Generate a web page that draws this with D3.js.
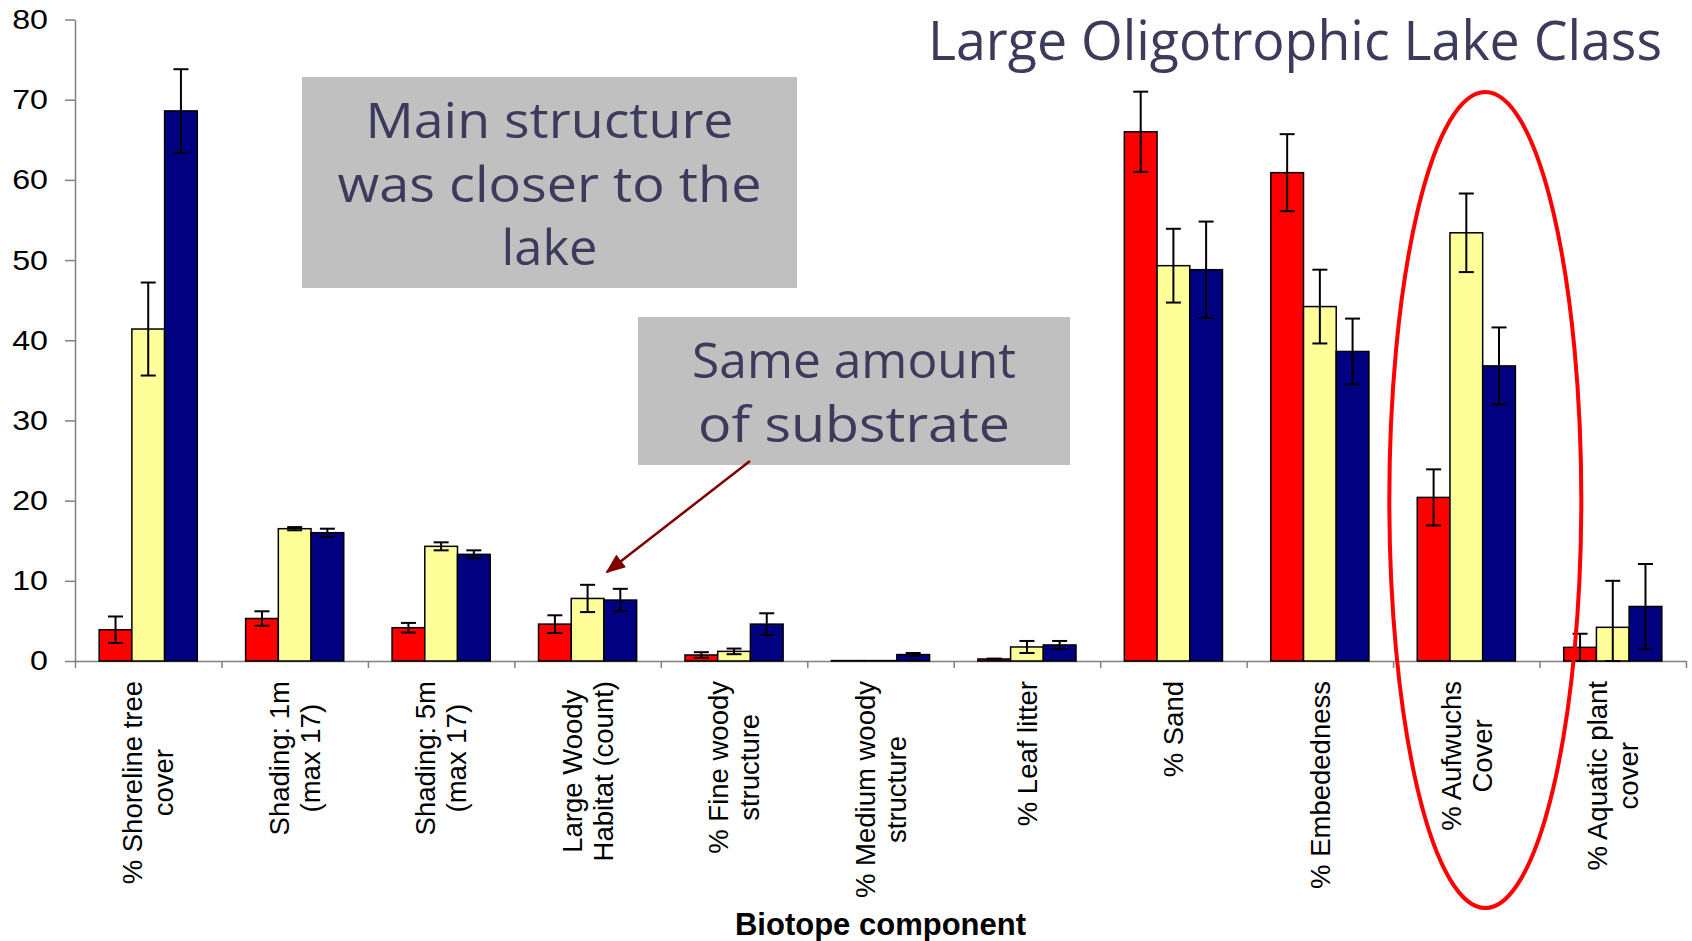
<!DOCTYPE html>
<meta charset="utf-8">
<style type="text/css">
body {
  margin: 0;
  background: #fff;
  font-family: Arial, "Liberation Sans", sans-serif;
}

.axis path,
.axis line {
  fill: none;
  stroke: #808080;
  stroke-width: 1.5px;
}

.axis text {
  font-size: 28px;
  fill: #000;
}

.xlab text {
  font-size: 27.5px;
  fill: #000;
}

.bar {
  stroke: #000;
  stroke-width: 1.5px;
}

.err {
  stroke: #000;
  stroke-width: 2px;
}

.note {
  font-family: "Comic Sans MS", "Open Sans", sans-serif;
  fill: #3d3b5c;
}
</style>
<body>
<script src="https://d3js.org/d3.v7.min.js"></script>
<script>
// categories along the x axis (label lines)
var categories = [
  ["% Shoreline tree", "cover"],
  ["Shading: 1m", "(max 17)"],
  ["Shading: 5m", "(max 17)"],
  ["Large Woody", "Habitat (count)"],
  ["% Fine woody", "structure"],
  ["% Medium woody", "structure"],
  ["% Leaf litter"],
  ["% Sand"],
  ["% Embededness"],
  ["% Aufwuchs", "Cover"],
  ["% Aquatic plant", "cover"]
];

// three series, means and error (+/-)
var redValues    = [3.9, 5.3, 4.15, 4.6, 0.75, 0.05, 0.25, 66.0, 60.9, 20.4, 1.7];
var redErrors    = [1.65, 0.9, 0.6, 1.1, 0.35, 0, 0.05, 5.0, 4.8, 3.5, 1.7];
var yellowValues = [41.4, 16.5, 14.3, 7.8, 1.2, 0.05, 1.75, 49.3, 44.2, 53.4, 4.2];
var yellowErrors = [5.8, 0.2, 0.5, 1.7, 0.35, 0, 0.75, 4.6, 4.6, 4.9, 5.8];
var blueValues   = [68.6, 16.0, 13.3, 7.6, 4.6, 0.8, 2.0, 48.8, 38.6, 36.8, 6.8];
var blueErrors   = [5.2, 0.5, 0.5, 1.4, 1.35, 0.2, 0.5, 6.0, 4.1, 4.8, 5.3];

var seriesNames = ["red", "yellow", "blue"];
var seriesColors = ["#ff0000", "#ffff99", "#000080"];

var yTicks = [0, 10, 20, 30, 40, 50, 60, 70, 80];

var titleText = "Large Oligotrophic Lake Class";
var box1Lines = ["Main structure", "was closer to the", "lake"];
var box2Lines = ["Same amount", "of substrate"];
var xTitle = "Biotope component";

var W = 1692, H = 941;
var plotLeft = 75, plotRight = 1686, plotTop = 19.5, plotBottom = 661;

var svg = d3.select("body")
  .append("svg")
    .attr("width", W)
    .attr("height", H);

var keys = categories.map(function(d) { return d.join(" "); });

var x0 = d3.scaleBand()
  .domain(keys)
  .range([plotLeft, plotRight])
  .paddingInner(0.33)
  .paddingOuter(0.165);

var x1 = d3.scaleBand()
  .domain(seriesNames)
  .range([0, x0.bandwidth()]);

var y = d3.scaleLinear()
  .domain([0, 80])
  .range([plotBottom, plotTop]);

var color = d3.scaleOrdinal().domain(seriesNames).range(seriesColors);

var rows = keys.map(function(k, i) {
  return {
    key: k,
    values: [
      { s: "red", v: redValues[i], e: redErrors[i] },
      { s: "yellow", v: yellowValues[i], e: yellowErrors[i] },
      { s: "blue", v: blueValues[i], e: blueErrors[i] }
    ]
  };
});

// y axis
var yAxis = d3.axisLeft(y)
  .tickValues(yTicks)
  .tickSizeInner(10)
  .tickSizeOuter(0)
  .tickPadding(17);

var gy = svg.append("g")
  .attr("class", "y axis")
  .attr("transform", "translate(" + plotLeft + ",0)")
  .call(yAxis);

gy.selectAll("text")
  .attr("x", -27 / 1.15)
  .attr("transform", "scale(1.15,1)");

// x axis: ticks between categories
var xb = d3.scaleLinear().domain([0, keys.length]).range([plotLeft, plotRight]);
var xAxis = d3.axisBottom(xb)
  .tickValues(d3.range(keys.length + 1))
  .tickFormat("")
  .tickSizeInner(7)
  .tickSizeOuter(0);

svg.append("g")
  .attr("class", "x axis")
  .attr("transform", "translate(0," + plotBottom + ")")
  .call(xAxis);

// bars
var group = svg.selectAll("g.cat")
  .data(rows)
  .enter().append("g")
  .attr("class", "cat")
  .attr("transform", function(d) { return "translate(" + x0(d.key) + ",0)"; });

group.selectAll("rect")
  .data(function(d) { return d.values; })
  .enter().append("rect")
  .attr("class", "bar")
  .attr("x", function(d) { return x1(d.s); })
  .attr("width", x1.bandwidth())
  .attr("y", function(d) { return y(d.v); })
  .attr("height", function(d) { return y(0) - y(d.v); })
  .style("fill", function(d) { return color(d.s); });

// error bars
var capW = 7.5;
var eb = group.selectAll("g.eb")
  .data(function(d) { return d.values.filter(function(v) { return v.e > 0; }); })
  .enter().append("g")
  .attr("class", "eb")
  .attr("transform", function(d) { return "translate(" + (x1(d.s) + x1.bandwidth() / 2) + ",0)"; });

eb.append("line")
  .attr("class", "err")
  .attr("y1", function(d) { return y(d.v + d.e); })
  .attr("y2", function(d) { return y(Math.max(0, d.v - d.e)); });

eb.append("line")
  .attr("class", "err")
  .attr("x1", -capW).attr("x2", capW)
  .attr("y1", function(d) { return y(d.v + d.e); })
  .attr("y2", function(d) { return y(d.v + d.e); });

eb.append("line")
  .attr("class", "err")
  .attr("x1", -capW).attr("x2", capW)
  .attr("y1", function(d) { return y(Math.max(0, d.v - d.e)); })
  .attr("y2", function(d) { return y(Math.max(0, d.v - d.e)); });

// rotated category labels, top of block just under the axis
var labTop = 681, lineGap = 31;
var xlab = svg.selectAll("g.xlab")
  .data(categories)
  .enter().append("g")
  .attr("class", "xlab");

xlab.each(function(lines, i) {
  var g = d3.select(this);
  var n = lines.length;
  var maxLen = 0;
  lines.forEach(function(t, j) {
    var txt = g.append("text")
      .attr("text-anchor", "middle")
      .attr("x", 0)
      .attr("y", 9.7 + (j - (n - 1) / 2) * lineGap)
      .text(t);
    maxLen = Math.max(maxLen, txt.node().getComputedTextLength());
  });
  var cx = x0(keys[i]) + x0.bandwidth() / 2;
  g.attr("transform", "translate(" + cx + "," + (labTop + maxLen / 2) + ") rotate(-90)");
});

svg.append("text")
  .attr("x", (plotLeft + plotRight) / 2)
  .attr("y", 935)
  .attr("text-anchor", "middle")
  .style("font-size", "31px")
  .style("font-weight", "bold")
  .text(xTitle);

// title
svg.append("text")
  .attr("class", "note")
  .attr("x", 1662)
  .attr("y", 60)
  .attr("text-anchor", "end")
  .attr("textLength", 734)
  .attr("lengthAdjust", "spacingAndGlyphs")
  .style("font-size", "54px")
  .text(titleText);

// annotation boxes
function noteBox(x, yTop, w, h, lines, widths, firstBase) {
  svg.append("rect")
    .attr("x", x).attr("y", yTop)
    .attr("width", w).attr("height", h)
    .style("fill", "#c0c0c0");
  lines.forEach(function(t, j) {
    svg.append("text")
      .attr("class", "note")
      .attr("x", x + w / 2)
      .attr("y", firstBase + j * 63.5)
      .attr("text-anchor", "middle")
      .attr("textLength", widths[j])
      .attr("lengthAdjust", "spacingAndGlyphs")
      .style("font-size", "50px")
      .text(t);
  });
}

noteBox(302, 77, 495, 211, box1Lines, [368, 424, 96], 138);
noteBox(638, 317, 432, 148, box2Lines, [324, 312], 378);

// arrow
var defs = svg.append("defs");
defs.append("marker")
  .attr("id", "arrow")
  .attr("markerUnits", "userSpaceOnUse")
  .attr("viewBox", "0 0 20 16")
  .attr("refX", 18)
  .attr("refY", 8)
  .attr("markerWidth", 20)
  .attr("markerHeight", 16)
  .attr("orient", "auto")
  .append("path")
  .attr("d", "M0,0 L20,8 L0,16 Z")
  .style("fill", "#800000");

svg.append("line")
  .attr("x1", 750).attr("y1", 461)
  .attr("x2", 607).attr("y2", 572)
  .style("stroke", "#800000")
  .style("stroke-width", 2.5)
  .attr("marker-end", "url(#arrow)");

// red ellipse around Aufwuchs cover
var aufX = x0(keys[9]) + x0.bandwidth() / 2;
svg.append("ellipse")
  .attr("cx", aufX + 19)
  .attr("cy", 500)
  .attr("rx", 96)
  .attr("ry", 408)
  .style("fill", "none")
  .style("stroke", "#ff0000")
  .style("stroke-width", 4);
</script>
</body>
